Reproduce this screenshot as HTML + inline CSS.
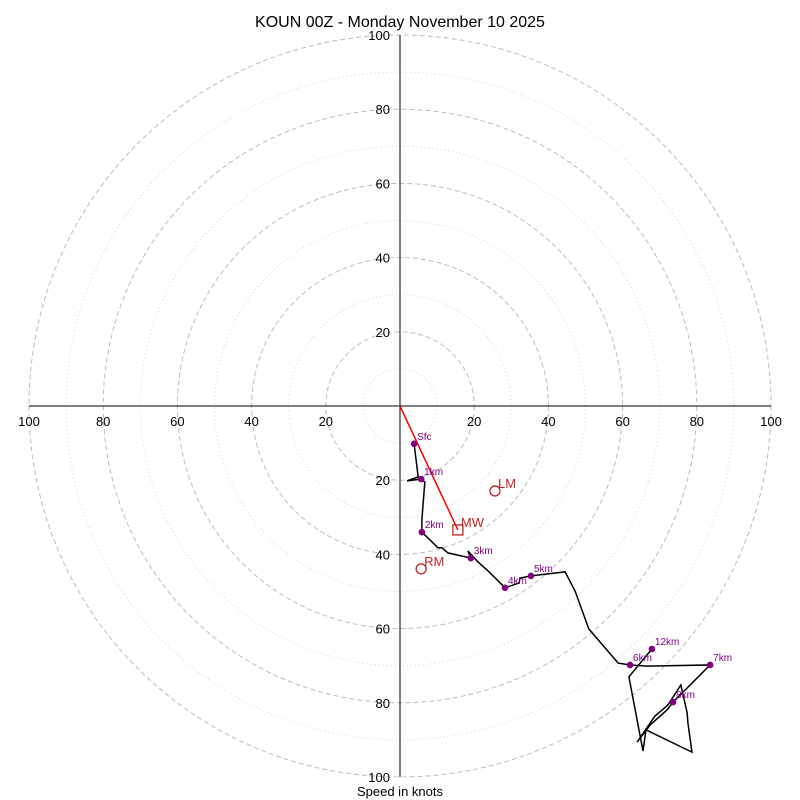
<!DOCTYPE html>
<html><head><meta charset="utf-8"><style>
body{margin:0;background:#fff}
svg{display:block;font-family:"Liberation Sans","DejaVu Sans",sans-serif}
</style></head><body>
<svg id="c" width="800" height="800">
<rect width="800" height="800" fill="#fff"/>
<text x="400" y="27" text-anchor="middle" font-size="16">KOUN 00Z - Monday November 10 2025</text>
<text x="400" y="796" text-anchor="middle" font-size="13">Speed in knots</text>
<g id="grid"></g><g id="axes"></g><g id="trace"></g><g id="marks"></g>
</svg>
<script>
const ringSpeeds=[10,20,30,40,50,60,70,80,90,100];
const tickLabels=[20,40,60,80,100];
// wind trace in knots (u east, v north)
const traceU=[3.8,4.9,1.9,5.7,6.7,6.5,6.2,5.9,5.9,8.1,10.2,11.3,12.9,19.1,18.3,21.0,24.3,28.3,32.1,32.3,35.3,44.5,47.2,50.9,58.8,62.0,66.6,83.6,73.6,72.0,67.4,63.9,68.7,72.2,75.7,77.4,77.6,78.7,66.3,65.5,61.7,67.9];
const traceV=[-10.2,-19.1,-20.2,-19.7,-20.5,-22.9,-26.7,-30.7,-34.0,-36.1,-38.2,-38.2,-39.6,-41.0,-39.1,-42.0,-45.0,-49.0,-47.7,-46.4,-45.8,-44.7,-49.9,-60.1,-69.3,-69.8,-70.1,-69.8,-79.8,-81.9,-86.0,-90.6,-83.6,-80.6,-75.2,-82.7,-85.4,-93.3,-87.3,-93.0,-73.0,-65.5];
const markerLabels=["Sfc","1km","2km","3km","4km","5km","6km","7km","8km","12km"];
const markerU=[3.8,5.7,5.9,19.1,28.3,35.3,62.0,83.6,73.6,67.9];
const markerV=[-10.2,-19.7,-34.0,-41.0,-49.0,-45.8,-69.8,-69.8,-79.8,-65.5];
const stormLabels=["LM","MW","RM"];
const stormU=[25.6,15.6,5.7];
const stormV=[-22.9,-33.4,-43.9];
const cx=400,cy=406,k=3.71;
const X=u=>cx+u*k, Y=v=>cy-v*k;
const NS="http://www.w3.org/2000/svg";
function mk(p,t,a){const e=document.createElementNS(NS,t);for(const n in a)e.setAttribute(n,a[n]);p.appendChild(e);return e;}
const grid=document.getElementById('grid'),axes=document.getElementById('axes'),tr=document.getElementById('trace'),mg=document.getElementById('marks');
ringSpeeds.forEach(s=>{
 const major=s%20===0;
 const c=mk(grid,'circle',{cx:cx,cy:cy,r:s*k,fill:'none',stroke:major?'#bdbdbd':'#d0d0d0','stroke-width':1,'stroke-dasharray':major?'5,3':'1,3'});
 
 
});
const h=mk(axes,'line',{x1:X(-100),y1:cy,x2:X(100),y2:cy,stroke:'#000'});


const v=mk(axes,'line',{x1:cx,y1:Y(100),x2:cx,y2:Y(-100),stroke:'#000'});


tickLabels.forEach(t=>{
 [t,-t].forEach(s=>{
  const a=mk(axes,'text',{x:X(s),y:cy+20,'text-anchor':'middle','font-size':13});a.textContent=t;
  
  
  const b=mk(axes,'text',{x:cx-10,y:Y(s)+5,'text-anchor':'end','font-size':13});b.textContent=t;
  
  
 });
});
const pl=mk(tr,'polyline',{points:traceU.map((u,i)=>X(u)+','+Y(traceV[i])).join(' '),fill:'none',stroke:'#000','stroke-width':1.5});


const ar=mk(tr,'line',{x1:cx,y1:cy,x2:X(stormU[1]),y2:Y(stormV[1]),stroke:'red','stroke-width':1.5});


markerLabels.forEach((l,i)=>{
 const d=mk(mg,'circle',{cx:X(markerU[i]),cy:Y(markerV[i]),r:3.3,fill:'purple'});
 
 
 const t=mk(mg,'text',{x:X(markerU[i])+3,y:Y(markerV[i])-4,'font-size':10,fill:'purple'});t.textContent=l;
 
 
});
stormLabels.forEach((l,i)=>{
 const x=X(stormU[i]),y=Y(stormV[i]);
 let s;
 if(l==='MW') s=mk(mg,'rect',{x:x-5,y:y-5,width:10,height:10,fill:'none',stroke:'#c82020','stroke-width':1.3});
 else s=mk(mg,'circle',{cx:x,cy:y,r:5,fill:'none',stroke:'#c82020','stroke-width':1.3});
 
 
 const t=mk(mg,'text',{x:x+3,y:y-3,'font-size':13,fill:'#c82020'});t.textContent=l;
 
 
});
</script>
</body></html>
